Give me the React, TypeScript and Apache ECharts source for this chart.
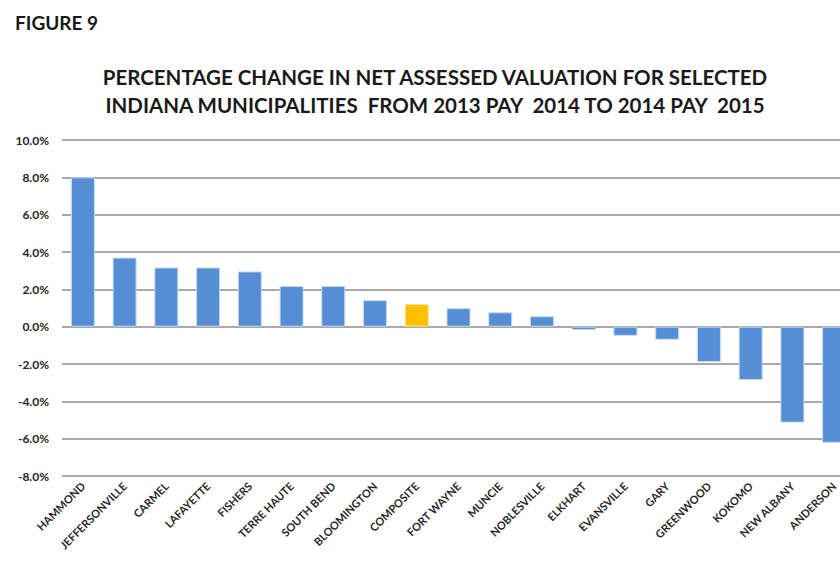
import React, { useEffect, useRef } from "react";
import * as echarts from "echarts";

const categories = [
  "HAMMOND", "JEFFERSONVILLE", "CARMEL", "LAFAYETTE", "FISHERS", "TERRE HAUTE",
  "SOUTH BEND", "BLOOMINGTON", "COMPOSITE", "FORT WAYNE", "MUNCIE", "NOBLESVILLE",
  "ELKHART", "EVANSVILLE", "GARY", "GREENWOOD", "KOKOMO", "NEW ALBANY", "ANDERSON",
];
const values = [
  8.0, 3.7, 3.17, 3.17, 2.96, 2.18, 2.18, 1.42, 1.21, 0.99, 0.77, 0.56,
  -0.18, -0.49, -0.7, -1.89, -2.86, -5.14, -6.22,
];
const highlight = "COMPOSITE";
const titleLines = [
  "PERCENTAGE CHANGE IN NET ASSESSED VALUATION FOR SELECTED",
  "INDIANA MUNICIPALITIES  FROM 2013 PAY  2014 TO 2014 PAY  2015",
];
const figureLabel = "FIGURE 9";

const FONT = "Lato, 'Open Sans', sans-serif";

export default function App() {
  const ref = useRef<HTMLDivElement>(null);
  useEffect(() => {
    if (!ref.current) return;
    const chart = echarts.init(ref.current, undefined, { renderer: "svg" });
    chart.setOption({
      animation: false,
      backgroundColor: "#ffffff",
      title: [
        {
          text: figureLabel,
          left: 10,
          top: 8,
          textStyle: { fontFamily: FONT, fontWeight: "bold", fontSize: 19, color: "#1a1a1a" },
        },
        {
          text: titleLines.join("\n"),
          left: 430,
          textAlign: "center",
          top: 58,
          textStyle: {
            fontFamily: FONT,
            fontWeight: "bold",
            fontSize: 20.5,
            lineHeight: 28,
            color: "#1a1a1a",
          },
        },
      ],
      grid: { left: 62, right: 0, top: 140, bottom: 86, containLabel: false },
      xAxis: {
        type: "category",
        data: categories,
        axisLine: { show: false },
        axisTick: { show: false },
        axisLabel: {
          interval: 0,
          rotate: 45,
          margin: 8,
          fontFamily: FONT,
          fontWeight: "bold",
          fontSize: 11,
          color: "#262626",
        },
      },
      yAxis: {
        type: "value",
        min: -8,
        max: 10,
        interval: 2,
        axisLine: { show: false },
        axisTick: { show: false },
        axisLabel: {
          formatter: (v: number) => v.toFixed(1) + "%",
          margin: 13,
          fontFamily: FONT,
          fontWeight: "bold",
          fontSize: 12,
          color: "#262626",
        },
        splitLine: { lineStyle: { color: "#8c8c8c", width: 1.5 } },
      },
      series: [
        {
          type: "bar",
          barWidth: 24,
          data: categories.map((c, i) => ({
            value: values[i],
            itemStyle: {
              color: c === highlight ? "#FFC000" : "#558ED5",
              borderColor: c === highlight ? "#ffe699" : "#c6d9f1",
              borderWidth: 1,
            },
          })),
        },
      ],
    });
    return () => chart.dispose();
  }, []);
  return (
    <div style={{ position: "fixed", left: 0, top: 0, width: 840, height: 562, overflow: "hidden" }}>
      <div ref={ref} style={{ width: 855, height: 562 }} />
    </div>
  );
}
